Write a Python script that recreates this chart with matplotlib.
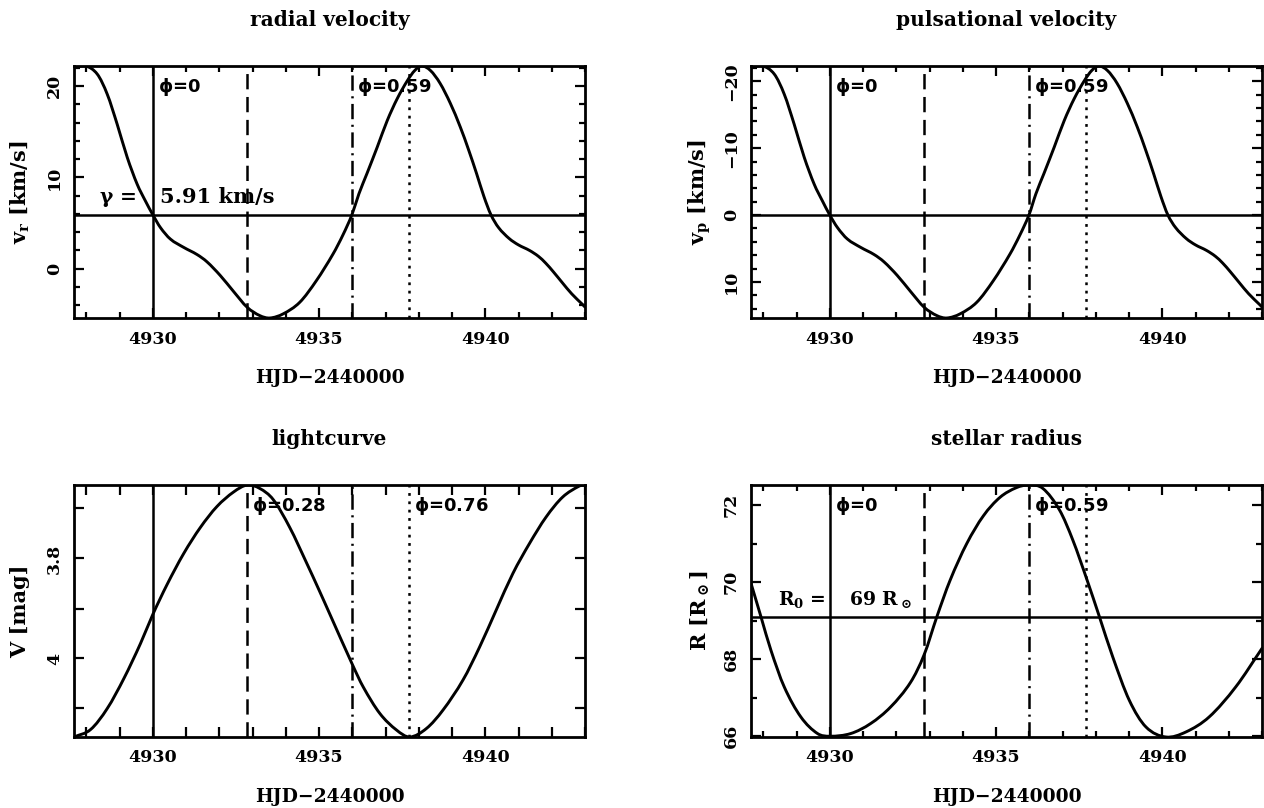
import matplotlib
matplotlib.use("Agg")
import matplotlib.pyplot as plt
import matplotlib.transforms as mtransforms
from matplotlib.path import Path
from matplotlib.patches import PathPatch
from matplotlib.ticker import MultipleLocator

# ---------------- data ----------------
t_vr = [4927.63, 4927.98, 4928.33, 4928.63, 4928.93, 4929.23, 4929.53, 4929.78, 4930.0,
        4930.23, 4930.53, 4930.93, 4931.33, 4931.63, 4932.03, 4932.43, 4932.84, 4933.22,
        4933.52, 4933.92, 4934.42, 4934.92, 4935.42, 4935.72, 4935.99, 4936.2, 4936.44,
        4936.75, 4937.05, 4937.35, 4937.66, 4937.88, 4938.09, 4938.35, 4938.64, 4938.95,
        4939.25, 4939.5, 4939.74, 4939.96, 4940.17, 4940.4, 4940.72, 4941.0, 4941.33,
        4941.6, 4941.82, 4942.05, 4942.31, 4942.6, 4942.92, 4943.0]
v_rad = [22.0, 22.19, 21.3, 19.1, 15.8, 12.2, 9.25, 7.4, 5.91,
         4.5, 3.24, 2.33, 1.55, 0.75, -0.75, -2.5, -4.23, -5.14,
         -5.4, -4.95, -3.68, -1.31, 1.6, 3.7, 5.91, 8.2, 10.4,
         13.3, 16.2, 18.6, 20.6, 21.7, 22.19, 21.7, 20.3, 18.1,
         15.5, 13.0, 10.4, 7.9, 5.91, 4.5, 3.3, 2.6, 2.0,
         1.35, 0.6, -0.35, -1.5, -2.75, -3.9, -4.2]
v_puls = [-22.03, -22.29, -21.08, -18.07, -13.56, -8.65, -4.62, -2.09, 0.0,
          1.87, 3.59, 4.84, 5.90, 7.00, 9.04, 11.44, 13.80, 15.04,
          15.40, 14.78, 13.05, 9.81, 5.83, 2.97, 0.0, -3.18, -6.19,
          -10.15, -14.11, -17.39, -20.12, -21.62, -22.29, -21.62, -19.71, -16.70,
          -13.15, -9.74, -6.19, -2.77, 0.0, 1.87, 3.51, 4.47, 5.29,
          6.18, 7.20, 8.50, 10.07, 11.78, 13.35, 13.76]

t_lc = [4927.63, 4928.13, 4928.63, 4929.13, 4929.63, 4930.0, 4930.43, 4930.93, 4931.43,
        4931.93, 4932.43, 4932.84, 4933.22, 4933.62, 4934.12, 4934.62, 4935.0, 4935.33,
        4936.01, 4936.33, 4936.83, 4937.33, 4937.73, 4938.23, 4938.73, 4939.33, 4939.83,
        4940.33, 4940.83, 4941.33, 4941.83, 4942.33, 4942.83, 4943.0]
v_mag = [4.157, 4.142, 4.100, 4.040, 3.970, 3.912, 3.852, 3.790, 3.738,
         3.696, 3.667, 3.653, 3.66, 3.682, 3.738, 3.808, 3.863, 3.912,
         4.013, 4.057, 4.11, 4.143, 4.157, 4.14, 4.103, 4.043, 3.977,
         3.903, 3.83, 3.77, 3.717, 3.677, 3.655, 3.653]

t_rad = [4927.63, 4927.93, 4928.23, 4928.63, 4929.13, 4929.63, 4930.0, 4930.63, 4931.23,
         4931.83, 4932.43, 4932.84, 4933.22, 4933.62, 4934.12, 4934.62, 4935.12, 4935.61,
         4935.99, 4936.41, 4936.91, 4937.31, 4937.74, 4938.11, 4938.51, 4939.01, 4939.51,
         4940.11, 4940.71, 4941.41, 4942.21, 4943.0]
r_star = [69.97, 69.1, 68.23, 67.28, 66.50, 66.07, 66.0, 66.07, 66.33,
          66.76, 67.4, 68.12, 69.1, 70.05, 71.0, 71.72, 72.2, 72.45,
          72.52, 72.43, 71.87, 71.09, 70.05, 69.1, 68.06, 66.93, 66.24,
          65.98, 66.11, 66.5, 67.28, 68.28]

gamma = 5.91
gamma_label = "5.91 km/s"
r0 = 69.1
r0_label = "69"

phase_times = [4930.0, 4932.84, 4935.99, 4937.72]
phase_styles = ["solid", "dashed", "dashdot", "dotted"]
phase_labels_vel = {0: "0", 2: "0.59"}
phase_labels_lc = {1: "0.28", 3: "0.76"}

x_range = (4927.63, 4943.0)
x_major = [4930, 4935, 4940]

titles = ["radial velocity", "pulsational velocity", "lightcurve", "stellar radius"]
ylabels = [r"v$_\mathbf{r}$ [km/s]", r"v$_\mathbf{p}$ [km/s]", "V [mag]",
           r"R $[\mathbf{R}_\odot]$"]
xlabel = "HJD\u22122440000"

# ---------------- style ----------------
plt.rcParams.update({
    "font.family": "DejaVu Serif",
    "font.weight": "bold",
    "mathtext.fontset": "dejavuserif",
    "mathtext.default": "bf",
    "lines.scale_dashes": False,
    "axes.linewidth": 2.0,
})

W, H = 1264, 808
fig = plt.figure(figsize=(W / 100, H / 100), dpi=100)


def frac(x0, y0, x1, y1):
    return [x0 / W, 1 - y1 / H, (x1 - x0) / W, (y1 - y0) / H]


boxes = [frac(74, 66, 585, 318), frac(751, 66, 1262, 318),
         frac(74, 485, 585, 737), frac(751, 485, 1262, 737)]
axs = [fig.add_axes(b) for b in boxes]

dash_map = {"solid": "-", "dashed": (0, (11, 5.5)), "dashdot": (0, (11, 4, 1.5, 4)),
            "dotted": (0, (2, 4))}


def smooth_curve(ax, x, y):
    """Draw a smooth line passing through every data point (cubic Hermite path)."""
    n = len(x)
    slopes = []
    for i in range(n):
        if i == 0:
            slopes.append((y[1] - y[0]) / (x[1] - x[0]))
        elif i == n - 1:
            slopes.append((y[-1] - y[-2]) / (x[-1] - x[-2]))
        else:
            slopes.append((y[i + 1] - y[i - 1]) / (x[i + 1] - x[i - 1]))
    verts = [(x[0], y[0])]
    codes = [Path.MOVETO]
    for i in range(n - 1):
        h = x[i + 1] - x[i]
        verts += [(x[i] + h / 3, y[i] + slopes[i] * h / 3),
                  (x[i + 1] - h / 3, y[i + 1] - slopes[i + 1] * h / 3),
                  (x[i + 1], y[i + 1])]
        codes += [Path.CURVE4] * 3
    ax.add_patch(PathPatch(Path(verts, codes), fill=False, lw=2.1, ec="black",
                           capstyle="round", joinstyle="round", zorder=3))


def setup(ax, idx, ylim, invert, yticks, yticklabels, yminor, ylab_off):
    ax.set_xlim(*x_range)
    if invert:
        ax.set_ylim(ylim[1], ylim[0])
    else:
        ax.set_ylim(*ylim)
    ax.set_xticks(x_major)
    ax.set_xticklabels([str(v) for v in x_major])
    ax.xaxis.set_minor_locator(MultipleLocator(1))
    ax.set_yticks(yticks)
    ax.set_yticklabels(yticklabels)
    ax.yaxis.set_minor_locator(MultipleLocator(yminor))
    ax.tick_params(which="both", direction="in", top=True, right=True, width=1.6)
    ax.tick_params(which="major", length=7)
    ax.tick_params(which="minor", length=4.5 if idx != 2 else 7)
    ax.tick_params(axis="x", labelsize=12.5, pad=9)
    ax.tick_params(axis="y", labelsize=12.5, pad=8, labelrotation=90)
    for tk in ax.yaxis.get_major_ticks():
        tk.label1.set_va("center")
    ax.text(0.5, 1 + 46 / 252, titles[idx], transform=ax.transAxes, ha="center",
            va="center", fontsize=14.5)
    ax.text(0.5, -60 / 252, xlabel, transform=ax.transAxes, ha="center",
            va="center", fontsize=13.5)
    ax.text(-ylab_off / 511, 0.5, ylabels[idx], transform=ax.transAxes, ha="center",
            va="center", rotation=90, fontsize=15)


def phase_lines(ax, labels):
    trans = mtransforms.blended_transform_factory(ax.transData, ax.transAxes)
    trans_off = mtransforms.offset_copy(trans, fig=fig, x=5, y=0, units="dots")
    for i, (tt, st) in enumerate(zip(phase_times, phase_styles)):
        ax.axvline(tt, color="black", lw=1.8, linestyle=dash_map[st], zorder=2)
        if i in labels:
            ax.text(tt, 0.915, r"$\phi$=" + labels[i], transform=trans_off,
                    ha="left", va="center", fontsize=13, family="DejaVu Sans",
                    fontweight="bold", math_fontfamily="dejavusans", zorder=4)


# panel 1: radial velocity
ax = axs[0]
smooth_curve(ax, t_vr, v_rad)
ax.axhline(gamma, color="black", lw=1.8)
phase_lines(ax, phase_labels_vel)
setup(ax, 0, (min(v_rad), max(v_rad)), False, [0, 10, 20], ["0", "10", "20"], 2, 54)
ax.text(0.049, 0.456, r"$\gamma$ =", transform=ax.transAxes, ha="left", va="baseline",
        fontsize=14.5)
ax.text(0.168, 0.456, gamma_label, transform=ax.transAxes, ha="left", va="baseline",
        fontsize=15)

# panel 2: pulsational velocity
ax = axs[1]
smooth_curve(ax, t_vr, v_puls)
ax.axhline(0, color="black", lw=1.8)
phase_lines(ax, phase_labels_vel)
setup(ax, 1, (min(v_puls), max(v_puls)), True, [-20, -10, 0, 10],
      ["\u221220", "\u221210", "0", "10"], 2, 51)

# panel 3: lightcurve
ax = axs[2]
smooth_curve(ax, t_lc, v_mag)
phase_lines(ax, phase_labels_lc)
setup(ax, 2, (min(v_mag), max(v_mag)), True, [3.8, 4.0], ["3.8", "4"], 0.1, 54)

# panel 4: stellar radius
ax = axs[3]
smooth_curve(ax, t_rad, r_star)
ax.axhline(r0, color="black", lw=1.8)
phase_lines(ax, phase_labels_vel)
setup(ax, 3, (min(r_star), max(r_star)), False, [66, 68, 70, 72],
      ["66", "68", "70", "72"], 1, 51)
ax.text(0.052, 0.524, r"$\mathbf{R}_\mathbf{0}$ =", transform=ax.transAxes, ha="left",
        va="baseline", fontsize=13.5)
ax.text(0.192, 0.524, r0_label + r" $\mathbf{R}_\odot$", transform=ax.transAxes,
        ha="left", va="baseline", fontsize=13.5)

fig.savefig("out.png", dpi=100)
